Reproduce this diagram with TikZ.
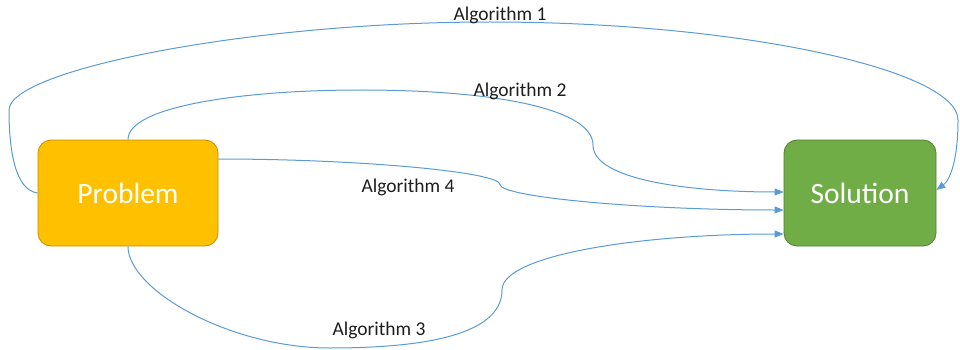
\documentclass[tikz,border=0pt]{standalone}
\usepackage{fontspec}
\setmainfont{Carlito}
\usetikzlibrary{arrows.meta}
\definecolor{probfill}{HTML}{FFC000}
\definecolor{probedge}{HTML}{C09000}
\definecolor{solfill}{HTML}{70AD47}
\definecolor{soledge}{HTML}{507E32}
\definecolor{linkblue}{HTML}{5B9BD5}
\definecolor{labeltext}{HTML}{1E1E1E}
\begin{document}
\begin{tikzpicture}[x=1pt,y=-1pt,
  box/.style={rounded corners=13pt, line width=0.8pt, minimum height=106pt,
    inner sep=0pt, text=white, font=\fontsize{29.5}{32}\selectfont},
  link/.style={draw=linkblue, line width=1pt, -{Triangle[length=9pt,width=7pt]}},
  lbl/.style={anchor=base, inner sep=0pt, text=labeltext,
    font=\fontsize{19.5}{22}\selectfont}]
\useasboundingbox (0,0) rectangle (960,350);

% the two boxes
\node[box, fill=probfill, draw=probedge, minimum width=180pt] (prob) at (128,193) {Problem};
\node[box, fill=solfill, draw=soledge, minimum width=152pt] (sol) at (860,193) {Solution};

% Algorithm 1: around the top, into the right side
\draw[link] (prob.west)
  .. controls (15,190) and (9,150) .. (9,110)
  .. controls (9,70) and (250,22) .. (490,22)
  .. controls (740,22) and (958,70) .. (958,120)
  .. controls (958,160) and (950,180) .. ([yshift=3pt]sol.east);

% Algorithm 2: up from the top edge
\draw[link] (prob.north)
  .. controls (128,105) and (250,90) .. (360,90)
  .. controls (500,90) and (593,110) .. (593,145)
  .. controls (593,180) and (690,192) .. ([yshift=1pt]sol.west);

% Algorithm 4: straight across
\draw[link] ([yshift=34pt]prob.east)
  .. controls (359,159) and (500,172) .. (500,184.5)
  .. controls (500,197) and (641,210) .. ([yshift=-17pt]sol.west);

% Algorithm 3: down from the bottom edge
\draw[link] (prob.south)
  .. controls (128,290) and (230,348) .. (330,348)
  .. controls (440,348) and (502,330) .. (502,290)
  .. controls (502,255) and (640,234) .. ([yshift=-41pt]sol.west);

% labels
\node[lbl] (l1) at (500,21) {Algorithm 1};
\node[lbl] (l2) at (520,97) {Algorithm 2};
\node[lbl] (l4) at (408,192) {Algorithm 4};
\node[lbl] (l3) at (379,335) {Algorithm 3};
\end{tikzpicture}
\end{document}
